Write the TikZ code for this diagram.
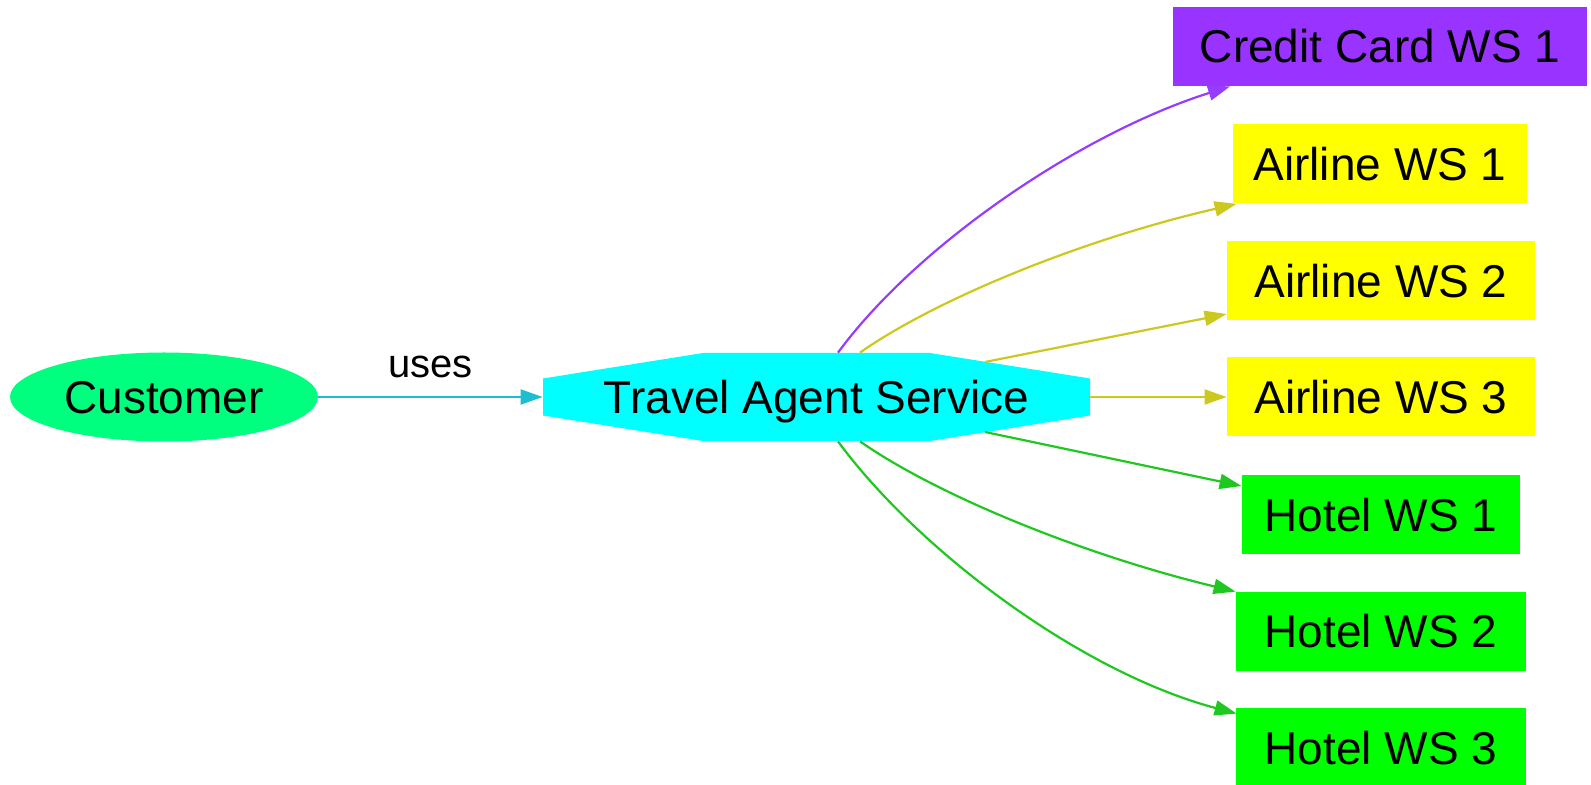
\documentclass[tikz,border=0pt]{standalone}
\usepackage{fontspec}
\setmainfont{Liberation Sans}
\usetikzlibrary{arrows.meta,calc,shapes.geometric}
\definecolor{edgecyan}{RGB}{30,190,210}
\definecolor{purplefill}{RGB}{153,51,255}
\definecolor{purpleedge}{RGB}{150,60,255}
\definecolor{yellowedge}{RGB}{205,200,30}
\definecolor{greenedge}{RGB}{30,200,30}
\definecolor{springgr}{RGB}{0,255,127}
\definecolor{tascyan}{RGB}{0,255,255}
\definecolor{ywfill}{RGB}{255,255,0}
\definecolor{gnfill}{RGB}{0,255,0}
\begin{document}
\begin{tikzpicture}[x=0.5pt,y=-0.5pt,
  every node/.style={font=\fontsize{23}{27}\selectfont, inner sep=0pt, text height=16.5pt, text depth=0pt, text=black},
  wsbox/.style={rectangle, minimum height=39.5pt},
  link/.style={line width=1.1pt, -{Triangle[length=11pt,width=7.5pt]}},
  edgelabel/.style={font=\fontsize{20}{24}\selectfont, text=black, anchor=base, yshift=9.75pt},
  octfill/.style={path picture={
    \fill[tascyan] ([shift={(-113.5,-44)}]path picture bounding box.center)
      -- ([shift={(113.5,-44)}]path picture bounding box.center)
      -- ([shift={(273.5,-18.5)}]path picture bounding box.center)
      -- ([shift={(273.5,18.5)}]path picture bounding box.center)
      -- ([shift={(113.5,44)}]path picture bounding box.center)
      -- ([shift={(-113.5,44)}]path picture bounding box.center)
      -- ([shift={(-273.5,18.5)}]path picture bounding box.center)
      -- ([shift={(-273.5,-18.5)}]path picture bounding box.center)
      -- cycle;}},
]
\useasboundingbox (0,0) rectangle (1591,785);

\node[ellipse, fill=springgr, minimum width=154pt, minimum height=44.5pt] (cust) at (164,397) {Customer};
\node[rectangle, minimum width=273.5pt, minimum height=44pt, octfill] (tas) at (816.5,397) {Travel Agent Service};

\node[wsbox, fill=purplefill, minimum width=207pt] (cc) at (1380,46.5) {Credit Card WS 1};
\node[wsbox, fill=ywfill, minimum width=147pt] (a1) at (1380,164) {Airline WS 1};
\node[wsbox, fill=ywfill, minimum width=154pt] (a2) at (1381,281) {Airline WS 2};
\node[wsbox, fill=ywfill, minimum width=154pt] (a3) at (1381,397) {Airline WS 3};
\node[wsbox, fill=gnfill, minimum width=139pt] (h1) at (1381,515) {Hotel WS 1};
\node[wsbox, fill=gnfill, minimum width=145pt] (h2) at (1381,631.5) {Hotel WS 2};
\node[wsbox, fill=gnfill, minimum width=145pt] (h3) at (1381,747.5) {Hotel WS 3};

\draw[link, edgecyan] (cust.east) -- node[edgelabel] {uses} (tas.west);

\draw[link, purpleedge] ($(tas.north)+(21.5,0)$) .. controls (918,244) and (1082,133) .. ($(cc.south)+(-150,0)$);
\draw[link, yellowedge] ($(tas.north)+(43.5,0)$) .. controls (935,300) and (1080,240) .. ($(a1.south west)+(4,0)$);
\draw[link, yellowedge] ($(tas.center)+(168.5,-35)$) -- ($(a2.west)+(0,33)$);
\draw[link, yellowedge] (tas.east) -- (a3.west);
\draw[link, greenedge] ($(tas.center)+(168.5,35)$) -- ($(h1.west)+(0,-29)$);
\draw[link, greenedge] ($(tas.south)+(43.5,0)$) .. controls (935,494) and (1080,554) .. (h2.north west);
\draw[link, greenedge] ($(tas.south)+(21.5,0)$) .. controls (918,550) and (1080,672) .. ($(h3.north west)+(1,6)$);
\end{tikzpicture}
\end{document}
